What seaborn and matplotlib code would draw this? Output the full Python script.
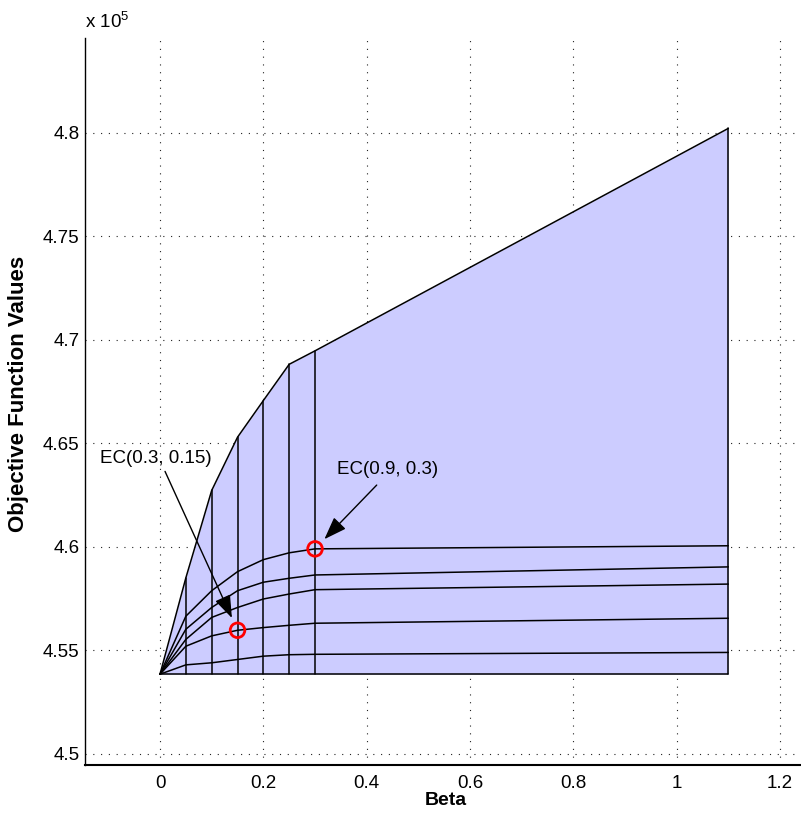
import matplotlib
matplotlib.use("Agg")
import matplotlib.pyplot as plt
import numpy as np
import pandas as pd
import seaborn as sns

# Parameter grid of the efficient-compromise surface
beta = [0.0, 0.05, 0.10, 0.15, 0.20, 0.25, 0.30, 1.10]
alpha = [0.0, 0.1, 0.3, 0.5, 0.7, 0.9, 1.0]

# Objective function value along beta, one list per alpha
obj_alpha_00 = [453850, 453850, 453850, 453850, 453850, 453850, 453850, 453850]
obj_alpha_01 = [453850, 454300, 454400, 454560, 454720, 454790, 454810, 454900]
obj_alpha_03 = [453850, 455200, 455700, 455970, 456100, 456210, 456310, 456550]
obj_alpha_05 = [453850, 455530, 456590, 457070, 457480, 457720, 457930, 458200]
obj_alpha_07 = [453850, 456020, 457070, 457880, 458290, 458480, 458640, 459030]
obj_alpha_09 = [453850, 456650, 457880, 458800, 459380, 459710, 459900, 460050]
obj_alpha_10 = [453850, 458500, 462720, 465290, 467060, 468810, 469460, 480200]

# Highlighted compromise solutions EC(alpha, beta)
ec_alpha = [0.3, 0.9]
ec_beta = [0.15, 0.3]

x_ticks = [0, 0.2, 0.4, 0.6, 0.8, 1.0, 1.2]
x_tick_labels = ["0", "0.2", "0.4", "0.6", "0.8", "1", "1.2"]
y_ticks = [4.5, 4.55, 4.6, 4.65, 4.7, 4.75, 4.8]
y_tick_labels = ["4.5", "4.55", "4.6", "4.65", "4.7", "4.75", "4.8"]
SCALE = 1e5

rows = [obj_alpha_00, obj_alpha_01, obj_alpha_03, obj_alpha_05,
        obj_alpha_07, obj_alpha_09, obj_alpha_10]
df = pd.DataFrame(
    [(a, b, v / SCALE) for a, r in zip(alpha, rows) for b, v in zip(beta, r)],
    columns=["alpha", "beta", "obj"],
)

sns.set_style("white")
plt.rcParams["font.family"] = ["Liberation Sans", "DejaVu Sans"]
plt.rcParams["mathtext.fontset"] = "custom"
plt.rcParams["mathtext.rm"] = "Liberation Sans"
plt.rcParams["text.color"] = "black"
plt.rcParams["axes.labelcolor"] = "black"
FS = 13.5

fig = plt.figure(figsize=(8.01, 8.19), dpi=100)
ax = fig.add_axes([85 / 801, 1 - 765 / 819, 715 / 801, 727 / 819])

# shaded surface region
low = df[df.alpha == alpha[0]].sort_values("beta")
high = df[df.alpha == alpha[-1]].sort_values("beta")
ax.fill_between(low.beta, low.obj, high.obj, color="#ccccff", lw=0, zorder=1)

# mesh: constant-alpha curves and constant-beta lines
sns.lineplot(data=df, x="beta", y="obj", units="alpha", estimator=None,
             color="black", lw=1.1, ax=ax, legend=False, zorder=2)
sns.lineplot(data=df, x="beta", y="obj", units="beta", estimator=None,
             orient="y", color="black", lw=1.1, ax=ax, legend=False, zorder=2)

# highlighted solutions
ec = pd.DataFrame({"alpha": ec_alpha, "beta": ec_beta}).merge(df, on=["alpha", "beta"])
sns.scatterplot(data=ec, x="beta", y="obj", marker="o", s=110,
                facecolor="none", edgecolor="red", linewidth=2.0,
                ax=ax, legend=False, zorder=4)

# labels with arrows
label_pos = [(-0.0087, 4.6427), (0.4413, 4.6374)]
tail_pos = [(0.0097, 4.6364), (0.4194, 4.6298)]
for (_, r), lp, tp in zip(ec.iterrows(), label_pos, tail_pos):
    ax.annotate("", xy=(r.beta, r.obj), xytext=tp,
                arrowprops=dict(arrowstyle="-|>,head_length=1.0,head_width=0.36",
                                color="black", lw=1.0, shrinkA=0, shrinkB=9.7,
                                mutation_scale=14), zorder=5)
    ax.text(lp[0], lp[1], f"EC({r.alpha:g}, {r.beta:g})", ha="center",
            va="center", fontsize=FS, color="black", zorder=5)

ax.set_xlim(-0.1452, 1.2387)
ax.set_ylim(4.49466, 4.84563)
ax.set_xticks(x_ticks)
ax.set_xticklabels(x_tick_labels)
ax.set_yticks(y_ticks)
ax.set_yticklabels(y_tick_labels)
ax.tick_params(direction="in", length=6, width=1, labelsize=FS,
               colors="black")
ax.tick_params(axis="x", pad=7)
ax.tick_params(axis="y", pad=4)
ax.grid(True, color="#222222", linestyle=(0, (1, 6)), lw=0.8)
ax.set_axisbelow(True)
for side in ["top", "right"]:
    ax.spines[side].set_visible(False)
ax.spines["left"].set_color("black")
ax.spines["left"].set_linewidth(1.0)
ax.spines["bottom"].set_color("black")
ax.spines["bottom"].set_linewidth(1.5)

ax.set_xlabel("Beta", fontsize=FS + 0.5, fontweight="bold")
ax.xaxis.set_label_coords((446 - 85) / 715, -(792 - 765) / 727)
ax.set_ylabel("Objective Function Values", fontsize=FS + 2.5, fontweight="bold")
ax.yaxis.set_label_coords(-(85 - 29) / 715, (765 - 394) / 727)
fig.text(85 / 801, 1 - 28 / 819, r"x 10$^{5}$", fontsize=FS,
         ha="left", va="baseline", color="black")

fig.savefig("out.png", dpi=100)
